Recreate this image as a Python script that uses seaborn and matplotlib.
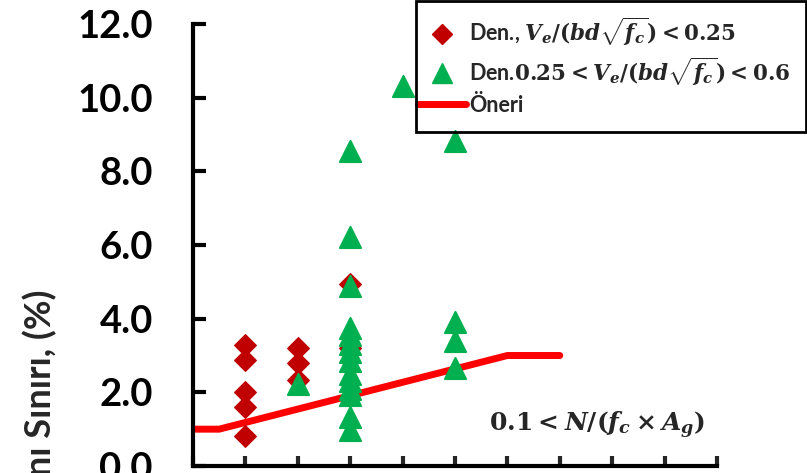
import matplotlib
matplotlib.use("Agg")
import matplotlib.pyplot as plt
import seaborn as sns
import pandas as pd
from matplotlib.lines import Line2D
from matplotlib.patches import Rectangle

# ---- data ----
red_x = [1, 1, 1, 1, 1, 2, 2, 2, 3, 3]
red_y = [3.29, 2.88, 2.01, 1.60, 0.82, 3.20, 2.80, 2.34, 4.95, 3.20]

green_x = [2, 3, 3, 3, 3, 3, 3, 3, 3, 3, 3, 3, 3, 3, 3, 4, 5, 5, 5, 5]
green_y = [2.23, 8.55, 6.22, 4.88, 3.75, 3.55, 3.30, 3.10, 2.85, 2.50, 2.30, 2.10,
           1.93, 1.33, 0.98, 10.31, 8.81, 3.91, 3.40, 2.66]

line_x = [0.0, 0.5, 6.0, 7.0]
line_y = [1.0, 1.0, 3.0, 3.0]

y_ticks = [0, 2, 4, 6, 8, 10, 12]
x_ticks = list(range(0, 11))

red_label = r"Den., $V_e/(bd\sqrt{f_c}) < 0.25$"
green_label = r"Den.$0.25 < V_e/(bd\sqrt{f_c}) < 0.6$"
line_label = "Öneri"
y_label = "Ötelenme Oranı Sınırı, (%)"
annot = r"$0.1 < N/(f_c \times A_g)$"

RED = "#C00000"
GREEN = "#00B050"
LINE = "#FF0000"

sns.set_style("white")
plt.rcParams["font.family"] = ["Lato", "DejaVu Sans"]
plt.rcParams["mathtext.fontset"] = "custom"
plt.rcParams["mathtext.rm"] = "DejaVu Serif:bold"
plt.rcParams["mathtext.it"] = "DejaVu Serif:italic:bold"
plt.rcParams["mathtext.bf"] = "DejaVu Serif:bold"

fig = plt.figure(figsize=(8.07, 4.73), dpi=100)
ax = fig.add_axes([193 / 807, 7 / 473, 524 / 807, 442 / 473])

red_df = pd.DataFrame({"x": red_x, "y": red_y})
green_df = pd.DataFrame({"x": green_x, "y": green_y})
line_df = pd.DataFrame({"x": line_x, "y": line_y})

sns.lineplot(data=line_df, x="x", y="y", ax=ax, color=LINE, lw=5,
             solid_capstyle="round", zorder=1, legend=False, sort=False,
             estimator=None)
sns.scatterplot(data=red_df, x="x", y="y", ax=ax, marker="D", s=120,
                color=RED, edgecolor=RED, linewidth=1, zorder=2, legend=False)
sns.scatterplot(data=green_df, x="x", y="y", ax=ax, marker="^", s=230,
                color=GREEN, edgecolor=GREEN, linewidth=1.5, zorder=3,
                legend=False)

ax.set_xlim(0, 10)
ax.set_ylim(0, 12)
ax.set_xticks(x_ticks)
ax.set_xticklabels([])
ax.set_yticks(y_ticks)
ax.set_yticklabels([f"{v:.1f}" for v in y_ticks], fontsize=27.5,
                   fontweight="bold")
ax.set_xlabel("")
ax.set_ylabel("")
for side in ["top", "right"]:
    ax.spines[side].set_visible(False)
for side in ["left", "bottom"]:
    ax.spines[side].set_linewidth(3)
    ax.spines[side].set_color("black")
ax.tick_params(axis="y", direction="in", length=9, width=3, pad=29,
               left=True, colors="black")
ax.tick_params(axis="x", direction="in", length=7.5, width=3, bottom=True)

ax.text(489 / 807, 1 - 425 / 473, annot, transform=fig.transFigure,
        fontsize=18, va="center", ha="left")

fig.text(37 / 807, 1 - 290 / 473, y_label, rotation=90, fontsize=26,
         fontweight="bold", ha="center", va="top")

handles = [
    Line2D([], [], marker="D", ls="none", color=RED, markersize=10),
    Line2D([], [], marker="^", ls="none", color=GREEN, markersize=14),
    Line2D([], [], color=LINE, lw=5, solid_capstyle="round"),
]
leg = fig.legend(handles, [red_label, green_label, line_label],
                 loc="upper left", bbox_to_anchor=(418 / 807, 1 - 16 / 473),
                 frameon=False, prop={"weight": "bold", "size": 15.5},
                 handlelength=2.25, handletextpad=0.14, borderpad=0,
                 labelspacing=0.32, borderaxespad=0)
fig.patches.append(Rectangle((416 / 807, 1 - 132 / 473), 390 / 807, 131 / 473,
                             transform=fig.transFigure, fill=False,
                             edgecolor="black", linewidth=2, zorder=10))

fig.savefig("out.png", dpi=100)
